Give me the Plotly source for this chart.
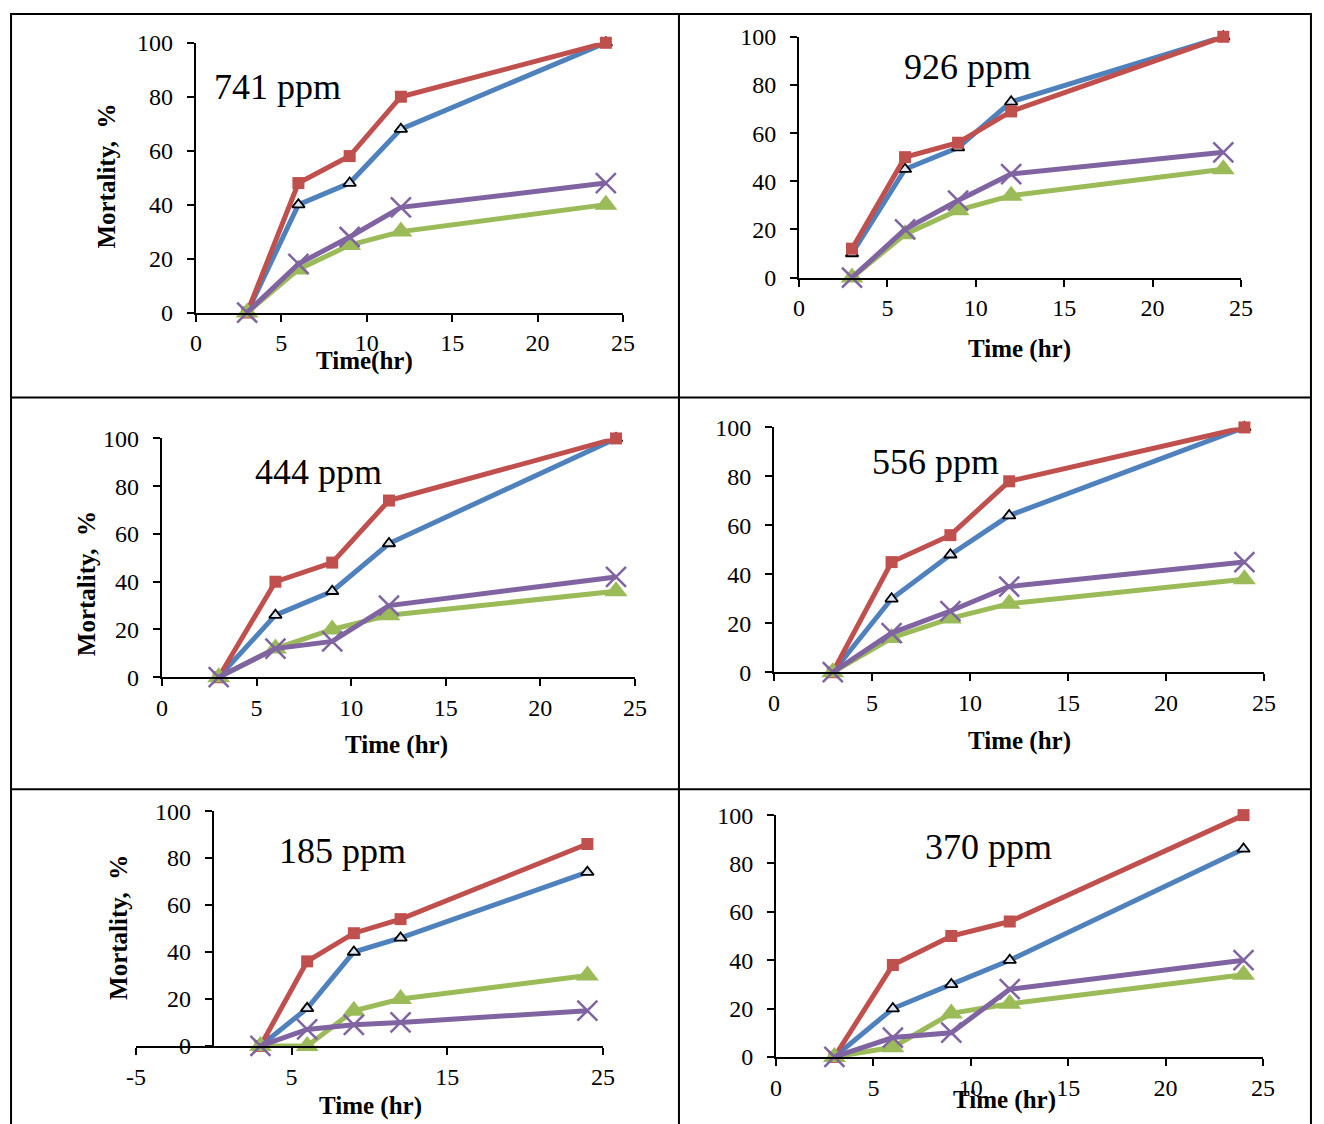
import plotly.graph_objects as go

W, H = 1324, 1124

time_hr = [3, 6, 9, 12, 24]

panel_titles = ["741 ppm", "926 ppm", "444 ppm", "556 ppm", "185 ppm", "370 ppm"]
x_titles = ["Time(hr)", "Time (hr)", "Time (hr)", "Time (hr)", "Time (hr)", "Time (hr)"]
y_title = "Mortality,  %"

# series values per panel (blue-open-triangle, red-square, green-triangle, purple-x)
blue_741 = [0, 40, 48, 68, 100]
red_741 = [0, 48, 58, 80, 100]
green_741 = [0, 16, 25, 30, 40]
purple_741 = [0, 18, 28, 39, 48]

blue_926 = [10, 45, 54, 73, 100]
red_926 = [12, 50, 56, 69, 100]
green_926 = [0, 18, 28, 34, 45]
purple_926 = [0, 20, 32, 43, 52]

blue_444 = [0, 26, 36, 56, 100]
red_444 = [0, 40, 48, 74, 100]
green_444 = [0, 12, 20, 26, 36]
purple_444 = [0, 12, 15, 30, 42]

blue_556 = [0, 30, 48, 64, 100]
red_556 = [0, 45, 56, 78, 100]
green_556 = [0, 14, 22, 28, 38]
purple_556 = [0, 16, 25, 35, 45]

blue_185 = [0, 16, 40, 46, 74]
red_185 = [0, 36, 48, 54, 86]
green_185 = [0, 0, 15, 20, 30]
purple_185 = [0, 7, 9, 10, 15]

blue_370 = [0, 20, 30, 40, 86]
red_370 = [0, 38, 50, 56, 100]
green_370 = [0, 4, 18, 22, 34]
purple_370 = [0, 8, 10, 28, 40]

x_ranges = [[0, 25], [0, 25], [0, 25], [0, 25], [-5, 25], [0, 25]]
x_tick_vals_185 = [-5, 5, 15, 25]
x_tick_text_185 = ["-5", "5", "15", "25"]
y_range = [0, 100]

panels = [
    (blue_741, red_741, green_741, purple_741),
    (blue_926, red_926, green_926, purple_926),
    (blue_444, red_444, green_444, purple_444),
    (blue_556, red_556, green_556, purple_556),
    (blue_185, red_185, green_185, purple_185),
    (blue_370, red_370, green_370, purple_370),
]

# target pixel geometry of each plot area: x-left, x-right, y-top, y-bottom
geom = [
    (196, 623, 42, 312),
    (799, 1241, 36, 277),
    (162, 635, 438, 677),
    (774, 1264, 427, 672),
    (136, 603, 811, 1046),
    (776, 1263, 815, 1057),
]
# y-axis line position (pixel) - panel 5 crosses at x = 0
yaxis_x = [196, 799, 162, 774, 213, 776]

title_pos = [(278, 86), (968, 66), (319, 472), (936, 462), (343, 851), (989, 847)]
xtitle_pos = [(365, 360), (1020, 348), (397, 745), (1020, 741), (371, 1106), (1005, 1100)]
ytitle_pos = {0: (107, 175), 2: (86, 583), 4: (118, 927)}

FONT = "Liberation Serif"
BLUE, RED, GREEN, PURPLE = "#4F81BD", "#C0504D", "#9BBB59", "#8064A2"

# the photographed page shows a small padding; map target pixels to page pixels
SX, OX = 0.9833, 10.1
SY, OY = 0.9777, 12.2


def px(x):
    return min(max(((x - OX) / SX) / W, 0.0008), 0.9992)


def py(y):
    return min(max(1 - ((y - OY) / SY) / H, -0.05), 0.9992)


fig = go.Figure()
annotations = []
for i, (b, r, g, p) in enumerate(panels):
    n = "" if i == 0 else str(i + 1)
    xa, ya = "x" + n, "y" + n
    styles = [
        (b, BLUE, dict(symbol="triangle-up", size=11, color="#DCE6F2", line=dict(color="black", width=1.8))),
        (r, RED, dict(symbol="square", size=12, color=RED)),
        (g, GREEN, dict(symbol="triangle-up", size=20, color=GREEN)),
        (p, PURPLE, dict(symbol="x-thin-open", size=20, color=PURPLE, line=dict(color=PURPLE, width=2.5))),
    ]
    for vals, col, mk in styles:
        fig.add_trace(go.Scatter(
            x=time_hr, y=vals, xaxis=xa, yaxis=ya, mode="lines+markers",
            line=dict(color=col, width=5), marker=mk, cliponaxis=False,
            showlegend=False, hoverinfo="skip"))
    x0, x1, y0, y1 = geom[i]
    xr = x_ranges[i]
    xaxis = dict(
        domain=[px(x0), px(x1)], range=xr, anchor=ya,
        showgrid=False, zeroline=False, showline=True, linecolor="black", linewidth=2,
        ticks="outside", ticklen=7, tickwidth=2, tickcolor="black",
        tickfont=dict(family=FONT, size=24, color="black"), ticklabelstandoff=1,
    )
    if i == 4:
        xaxis.update(tickmode="array", tickvals=x_tick_vals_185, ticktext=x_tick_text_185)
    else:
        xaxis.update(tick0=0, dtick=5)
    yaxis = dict(
        domain=[py(y1), py(y0)], range=y_range, dtick=20,
        showgrid=False, zeroline=False, showline=True, linecolor="black", linewidth=2,
        ticks="outside", ticklen=7, tickwidth=2, tickcolor="black",
        tickfont=dict(family=FONT, size=24, color="black"), ticklabelstandoff=9,
    )
    if i == 4:
        yaxis.update(anchor="free", position=px(yaxis_x[i]))
    else:
        yaxis.update(anchor=xa)
    fig.layout["xaxis" + n] = xaxis
    fig.layout["yaxis" + n] = yaxis

    tx, ty = title_pos[i]
    annotations.append(dict(text=panel_titles[i], x=px(tx), y=py(ty), xref="paper", yref="paper",
                            showarrow=False, xanchor="center", yanchor="middle",
                            font=dict(family=FONT, size=36, color="black")))
    ax_, ay_ = xtitle_pos[i]
    annotations.append(dict(text="<b>" + x_titles[i] + "</b>", x=px(ax_), y=py(ay_), xref="paper", yref="paper",
                            showarrow=False, xanchor="center", yanchor="middle",
                            font=dict(family=FONT, size=25, color="black")))
    if i in ytitle_pos:
        yx, yy = ytitle_pos[i]
        annotations.append(dict(text="<b>" + y_title + "</b>", x=px(yx), y=py(yy), xref="paper", yref="paper",
                                showarrow=False, textangle=-90, xanchor="center", yanchor="middle",
                                font=dict(family=FONT, size=25, color="black")))

line_style = dict(color="black", width=2)
shapes = [
    dict(type="rect", xref="paper", yref="paper", x0=px(7), x1=px(1322), y0=-0.05, y1=py(7), line=line_style),
    dict(type="line", xref="paper", yref="paper", x0=px(679), x1=px(679), y0=-0.05, y1=py(7), line=line_style),
    dict(type="line", xref="paper", yref="paper", x0=px(7), x1=px(1322), y0=py(397), y1=py(397), line=line_style),
    dict(type="line", xref="paper", yref="paper", x0=px(7), x1=px(1322), y0=py(789), y1=py(789), line=line_style),
]

fig.update_layout(
    width=W, height=H, margin=dict(l=0, r=0, t=0, b=0),
    paper_bgcolor="white", plot_bgcolor="rgba(0,0,0,0)",
    annotations=annotations, shapes=shapes, showlegend=False,
)

fig.write_html(
    "out.html",
    config={"displayModeBar": False},
    post_script="document.body.style.margin='0';document.documentElement.style.overflow='hidden';document.body.style.overflow='hidden';",
)
